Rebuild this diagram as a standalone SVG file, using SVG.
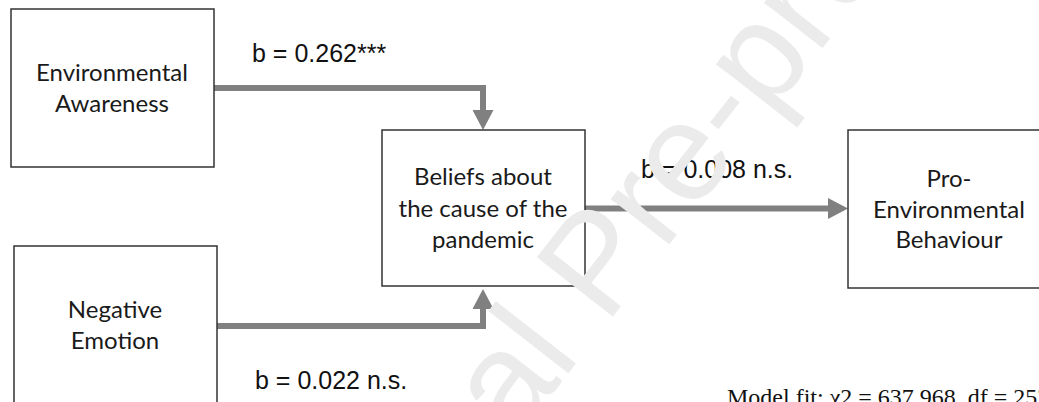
<svg xmlns="http://www.w3.org/2000/svg" width="1039" height="402" viewBox="0 0 1039 402">
  <style>
    .box { fill: #ffffff; stroke: #333333; stroke-width: 1.5; }
    .lbl { font-family: Lato, "Open Sans", sans-serif; font-size: 24px; fill: #1a1a1a; text-anchor: middle; }
    .coef { font-family: "Liberation Sans", Arial, sans-serif; font-size: 25px; fill: #111111; }
    .edge { fill: none; stroke: #808080; stroke-width: 6; }
    .fit { font-family: "Liberation Serif", "Times New Roman", serif; font-size: 24px; fill: #111111; }
    .mark { font-family: "Liberation Sans", Arial, sans-serif; font-size: 140px; fill: #ebebeb; }
  </style>
  <defs>
    <marker id="arrow" markerUnits="userSpaceOnUse" markerWidth="20" markerHeight="21" refX="0" refY="10.5" orient="auto">
      <path d="M0,0 L20,10.5 L0,21 Z" fill="#808080"/>
    </marker>
  </defs>
  <rect width="1039" height="402" fill="#ffffff"/>

  <!-- connectors -->
  <g id="connectors">
    <path class="edge" d="M214,88 H483 V110" marker-end="url(#arrow)"/>
    <path class="edge" d="M217,326 H483 V309" marker-end="url(#arrow)"/>
    <path class="edge" d="M585,208.5 H828" marker-end="url(#arrow)"/>
    <text class="coef" x="252" y="62">b = 0.262***</text>
    <text class="coef" x="641" y="178">b = 0.008 n.s.</text>
    <text class="coef" x="255" y="389">b = 0.022 n.s.</text>
  </g>

  <!-- nodes -->
  <g id="env-awareness">
    <rect class="box" x="11" y="9" width="203" height="158"/>
    <text class="lbl" x="112" y="81">Environmental</text>
    <text class="lbl" x="112" y="112">Awareness</text>
  </g>
  <g id="neg-emotion">
    <rect class="box" x="14" y="246" width="203" height="170"/>
    <text class="lbl" x="115" y="318">Negative</text>
    <text class="lbl" x="115" y="349">Emotion</text>
  </g>
  <g id="beliefs">
    <rect class="box" x="382" y="130" width="203" height="156"/>
    <text class="lbl" x="483" y="185">Beliefs about</text>
    <text class="lbl" x="483" y="217">the cause of the</text>
    <text class="lbl" x="483" y="248">pandemic</text>
  </g>
  <g id="pro-env">
    <rect class="box" x="848" y="130" width="203" height="158"/>
    <text class="lbl" x="949" y="187">Pro-</text>
    <text class="lbl" x="949" y="218">Environmental</text>
    <text class="lbl" x="949" y="248">Behaviour</text>
  </g>

  <text class="fit" x="727" y="405">Model fit: χ2 = 637.968, df = 252</text>

  <!-- diagonal watermark over the page -->
  <text class="mark" transform="translate(299,718) rotate(-52)">Journal Pre-proof</text>
</svg>
